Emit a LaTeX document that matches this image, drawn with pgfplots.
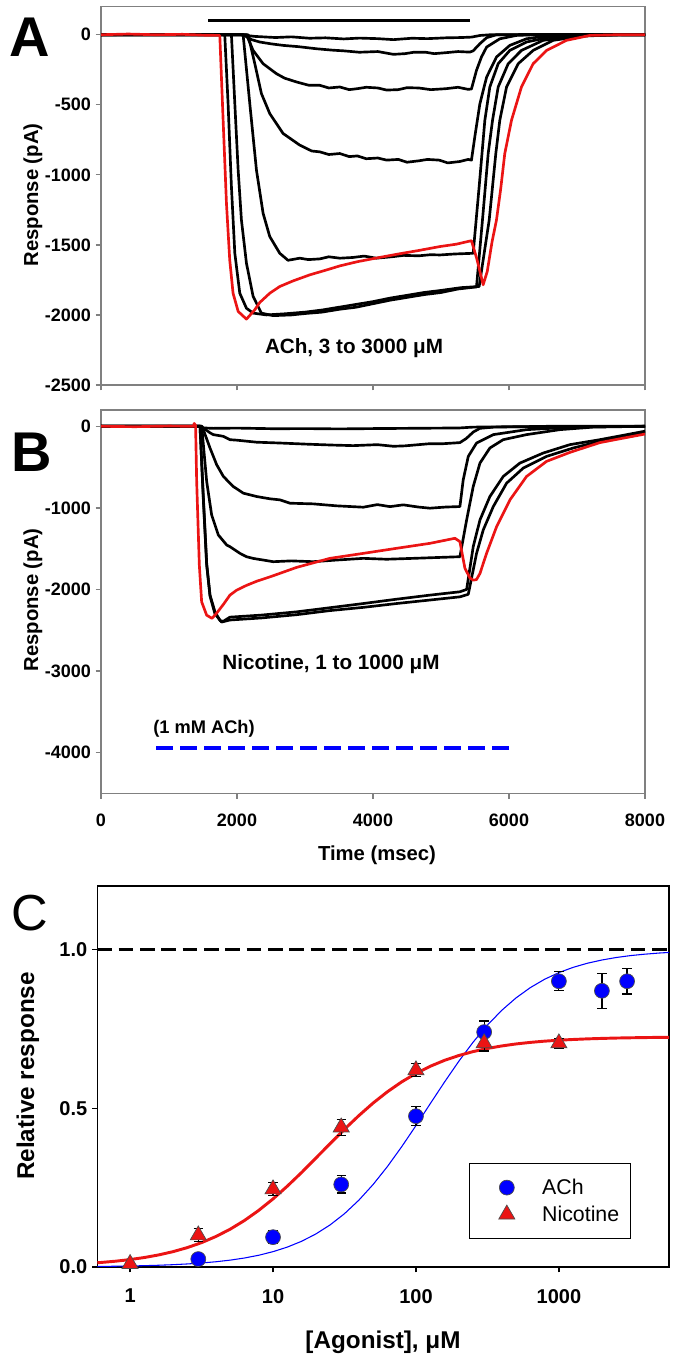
\documentclass[border=0pt]{standalone}
\usepackage{fontspec}
\setmainfont{Liberation Sans}
\usepackage{pgfplots}
\pgfplotsset{compat=1.18}
\definecolor{framegray}{RGB}{128,128,128}
\definecolor{tred}{RGB}{235,20,20}
\definecolor{pblue}{RGB}{0,0,255}
\newcommand{\tickfont}{\fontsize{13.5pt}{16pt}\selectfont\bfseries}
\newcommand{\labfont}{\fontsize{15.2pt}{18pt}\selectfont\bfseries}
\pgfplotsset{
  mylegimg/.style={legend image code/.code={\path[draw=none,fill=none] (0pt,0pt) -- (46pt,0pt); \draw[##1] plot[only marks] coordinates {(21pt,0pt)};}},
  trace/.style={line width=2pt, black, line join=round, no marks},
  redtrace/.style={line width=2pt, tred, line join=round, no marks},
  panelAB/.style={
    scale only axis, width=408pt,
    xmin=0, xmax=8000,
    axis line style={framegray, line width=1pt},
    every tick/.style={framegray, line width=1pt},
    tick align=outside, major tick length=4pt,
    xtick pos=bottom, ytick pos=left,
    xtick={0,2000,4000,6000,8000},
    /pgf/number format/assume math mode=true,
    /pgf/number format/1000 sep={},
    ticklabel style={font=\tickfont},
  },
}
\begin{document}
\begin{tikzpicture}
\useasboundingbox (0,0) rectangle (504pt,1018.5pt);
% ---------------- Panel A ----------------
\begin{axis}[panelAB, at={(75.75pt,729.75pt)}, anchor=south west, height=283.7pt,
  ymin=-2500, ymax=200, ytick={-2500,-2000,-1500,-1000,-500,0}, xticklabels={}]
\addplot[black, line width=2.5pt] coordinates {(1578,100)(5426,100)};
\addplot[trace] coordinates {(0,0)(1000,2)(2041,0)(2264,-12)(2565,-20)(2800,-15)(3067,-25)(3300,-22)(3569,-30)(3800,-24)(4071,-28)(4300,-35)(4573,-25)(4800,-28)(5075,-22)(5300,-20)(5448,-17)(5577,-5)(5728,0)(6500,2)(8000,0)};
\addplot[trace] coordinates {(0,0)(2090,0)(2214,-35)(2335,-52)(2500,-65)(2678,-76)(2900,-85)(3167,-100)(3400,-110)(3569,-115)(3800,-125)(4071,-120)(4300,-140)(4473,-135)(4600,-125)(4774,-125)(4900,-135)(5075,-128)(5250,-120)(5423,-124)(5473,-115)(5572,-64)(5671,-21)(5816,0)(8000,0)};
\addplot[trace] coordinates {(0,0)(2139,0)(2237,-112)(2384,-207)(2580,-278)(2700,-310)(2874,-337)(3050,-360)(3218,-361)(3350,-380)(3512,-373)(3650,-392)(3770,-385)(3900,-375)(4071,-380)(4200,-395)(4372,-392)(4500,-378)(4673,-380)(4850,-392)(5075,-385)(5250,-375)(5400,-390)(5448,-387)(5522,-254)(5595,-159)(5671,-88)(5865,-29)(6109,-5)(6380,0)(8000,0)};
\addplot[trace] coordinates {(0,0)(2163,0)(2262,-207)(2359,-420)(2482,-563)(2678,-705)(2923,-788)(3100,-830)(3218,-836)(3350,-855)(3512,-848)(3650,-870)(3770,-865)(3900,-885)(4071,-880)(4200,-895)(4372,-890)(4500,-910)(4673,-900)(4800,-890)(4975,-895)(5100,-915)(5276,-905)(5400,-890)(5448,-895)(5497,-729)(5572,-492)(5671,-302)(5816,-159)(6012,-76)(6257,-29)(6600,-5)(7083,0)(8000,0)};
\addplot[trace] coordinates {(0,0)(2090,0)(2188,-491)(2286,-966)(2384,-1275)(2482,-1441)(2629,-1560)(2750,-1610)(2923,-1595)(3050,-1605)(3218,-1600)(3350,-1585)(3512,-1595)(3700,-1590)(3870,-1580)(4050,-1595)(4272,-1585)(4450,-1575)(4673,-1578)(4850,-1570)(4983,-1572)(5200,-1565)(5473,-1560)(5561,-1085)(5645,-610)(5718,-373)(5841,-207)(6012,-112)(6258,-52)(6600,-17)(7083,-3)(8000,0)};
\addplot[trace] coordinates {(0,0)(1820,0)(1869,-492)(1918,-1085)(1968,-1560)(2041,-1845)(2139,-1952)(2237,-1987)(2433,-2000)(2700,-1992)(3000,-1980)(3250,-1965)(3500,-1945)(3750,-1925)(4000,-1905)(4250,-1880)(4500,-1860)(4750,-1840)(5000,-1825)(5300,-1805)(5561,-1797)(5709,-1322)(5806,-848)(5865,-610)(5964,-373)(6135,-207)(6355,-112)(6649,-40)(7083,-10)(7585,0)(8000,0)};
\addplot[trace] coordinates {(0,0)(1918,0)(1968,-492)(2017,-966)(2065,-1322)(2139,-1631)(2237,-1868)(2359,-1987)(2531,-2005)(2800,-2000)(3000,-1990)(3250,-1980)(3500,-1960)(3750,-1945)(4000,-1920)(4250,-1895)(4500,-1875)(4750,-1855)(5000,-1840)(5250,-1815)(5522,-1800)(5610,-1322)(5694,-848)(5758,-610)(5841,-373)(5988,-207)(6183,-112)(6503,-40)(6983,-8)(7585,0)(8000,0)};
\addplot[redtrace] coordinates {(0,0)(400,5)(800,0)(1200,3)(1500,-3)(1747,-5)(1796,-610)(1845,-1204)(1893,-1607)(1942,-1845)(2017,-1975)(2139,-2030)(2262,-1963)(2335,-1911)(2482,-1845)(2629,-1797)(2825,-1757)(3070,-1714)(3316,-1679)(3512,-1650)(3770,-1620)(4071,-1592)(4372,-1565)(4673,-1540)(4983,-1512)(5226,-1495)(5448,-1470)(5527,-1600)(5620,-1785)(5680,-1690)(5750,-1480)(5816,-1322)(5878,-1100)(5938,-848)(6037,-610)(6183,-373)(6355,-207)(6552,-112)(6846,-40)(7188,-5)(7585,0)(8000,0)};
\node[font=\fontsize{15.5pt}{18pt}\selectfont\bfseries] at (axis cs:3721,-2236) {ACh, 3 to 3000 μM};
\end{axis}
% ---------------- Panel B ----------------
\begin{axis}[panelAB, at={(75.75pt,423.5pt)}, anchor=south west, height=287.5pt,
  ymin=-4500, ymax=200, ytick={-4000,-3000,-2000,-1000,0},
  xticklabel style={yshift=-8pt}]
\addplot[trace] coordinates {(0,0)(1456,0)(1504,-20)(1652,-25)(2000,-22)(2557,-30)(3000,-28)(3500,-32)(4000,-28)(4500,-25)(5000,-22)(5278,-20)(5471,-10)(6074,-5)(8000,0)};
\addplot[trace] coordinates {(0,0)(1481,0)(1504,-20)(1603,-80)(1652,-102)(1799,-123)(1896,-164)(1995,-170)(2289,-195)(2632,-205)(3059,-220)(3400,-230)(3709,-237)(4064,-225)(4300,-245)(4466,-240)(4837,-213)(5000,-215)(5278,-200)(5371,-150)(5475,-70)(5572,-25)(5773,-10)(6577,0)(8000,0)};
\addplot[trace] coordinates {(0,0)(1471,0)(1504,-40)(1603,-266)(1701,-471)(1799,-614)(1896,-697)(1945,-738)(2093,-820)(2191,-840)(2289,-861)(2485,-889)(2632,-902)(2780,-943)(3121,-951)(3461,-975)(3857,-992)(4064,-960)(4250,-985)(4445,-963)(4667,-990)(4837,-1004)(5069,-990)(5278,-984)(5327,-656)(5401,-369)(5523,-205)(5769,-102)(6258,-41)(6994,-8)(8000,0)};
\addplot[trace] coordinates {(0,0)(1481,0)(1554,-676)(1627,-1086)(1725,-1332)(1848,-1455)(1896,-1476)(2044,-1558)(2141,-1599)(2240,-1620)(2533,-1660)(2800,-1650)(3121,-1660)(3461,-1640)(3857,-1619)(4200,-1630)(4592,-1619)(4900,-1610)(5278,-1599)(5377,-1148)(5474,-738)(5573,-451)(5719,-266)(5915,-164)(6258,-102)(6749,-41)(7239,-10)(8000,0)};
\addplot[trace] coordinates {(0,0)(1456,0)(1504,-881)(1554,-1701)(1603,-2070)(1676,-2275)(1753,-2385)(1800,-2390)(1896,-2340)(2356,-2315)(2876,-2275)(3361,-2225)(3857,-2173)(4346,-2120)(4837,-2070)(5278,-2029)(5377,-2000)(5474,-1476)(5573,-1148)(5719,-861)(5915,-615)(6160,-451)(6503,-328)(6895,-225)(7336,-164)(7682,-110)(8000,-60)};
\addplot[trace] coordinates {(0,0)(1456,0)(1504,-850)(1554,-1680)(1603,-2080)(1676,-2300)(1773,-2400)(1896,-2375)(2356,-2350)(2876,-2310)(3361,-2260)(3857,-2220)(4346,-2173)(4837,-2130)(5278,-2091)(5401,-2060)(5523,-1558)(5621,-1271)(5769,-984)(5965,-697)(6210,-512)(6552,-369)(6944,-266)(7336,-184)(7682,-120)(8000,-70)};
\addplot[redtrace] coordinates {(0,0)(500,-5)(1000,3)(1358,0)(1371,35)(1391,10)(1407,-676)(1446,-1701)(1480,-2152)(1554,-2316)(1632,-2355)(1702,-2290)(1803,-2180)(1896,-2070)(1995,-2009)(2141,-1950)(2289,-1900)(2506,-1840)(2876,-1730)(3367,-1619)(3857,-1558)(4346,-1496)(4837,-1435)(5205,-1373)(5278,-1414)(5352,-1742)(5426,-1860)(5474,-1886)(5521,-1880)(5573,-1804)(5670,-1558)(5818,-1230)(6014,-902)(6258,-615)(6552,-430)(6895,-320)(7336,-200)(7682,-145)(8000,-95)};
\addplot[pblue, line width=3.5pt, dash pattern=on 12.5pt off 5.5pt] coordinates {(809,-3944)(6059,-3944)};
\node[font=\fontsize{15.5pt}{18pt}\selectfont\bfseries] at (axis cs:3382,-2914) {Nicotine, 1 to 1000 μM};
\node[font=\fontsize{13.7pt}{16pt}\selectfont\bfseries] at (axis cs:1515,-3711) {(1 mM ACh)};
\end{axis}
% ---------------- Panel C ----------------
\begin{axis}[at={(73pt,68.25pt)}, anchor=south west, scale only axis,
  width=428.8pt, height=285.75pt,
  xmode=log, log basis x=10, xmin=0.59, xmax=5900, ymin=0, ymax=1.2,
  xtick={1,10,100,1000}, xticklabels={1,10,100,1000}, xminorticks=false,
  ytick={0,0.5,1}, yticklabels={0.0,0.5,1.0},
  axis line style={black, line width=1.1pt},
  every tick/.style={black, line width=1pt},
  tick align=outside, major tick length=4pt,
  xtick pos=bottom, ytick pos=left,
  ticklabel style={font=\fontsize{15pt}{18pt}\selectfont\bfseries},
  xticklabel style={yshift=-9pt},
  clip=false,
  legend style={at={(0.650,0.273)}, anchor=north west, draw=black, line width=0.8pt,
    font=\fontsize{16pt}{19pt}\selectfont, inner xsep=7pt, inner ysep=10pt,
    nodes={inner sep=1.5pt}, row sep=4pt},
  legend cell align=left,
]
\addplot[black, line width=2.4pt, dash pattern=on 11pt off 5pt, forget plot] coordinates {(0.59,1)(5900,1)};
\addplot[pblue, line width=0.8pt, forget plot] coordinates {
(0.59,0.0017)(0.7943,0.00242)(1,0.00319)(1.2589,0.00420)(1.5849,0.00553)(1.9953,0.00727)(2.5119,0.00957)(3.1623,0.0126)(3.9811,0.0165)(5.0119,0.0216)(6.3096,0.0283)(7.9433,0.0370)
(10,0.0483)(12.589,0.0627)(15.849,0.0810)(19.953,0.1041)(25.119,0.1328)(31.623,0.1679)(39.811,0.2102)(50.119,0.2597)(63.096,0.3162)(79.433,0.3787)
(100,0.4454)(125.89,0.5144)(158.49,0.5827)(199.53,0.6480)(251.19,0.7082)(316.23,0.7619)(398.11,0.8083)(501.19,0.8475)(630.96,0.8799)(794.33,0.9062)
(1000,0.9272)(1258.9,0.9438)(1584.9,0.9568)(1995.3,0.9668)(2511.9,0.9747)(3162.3,0.9807)(3981.1,0.9852)(5011.9,0.9888)(5900,0.9907)};
\addplot[tred, line width=2.2pt, forget plot] coordinates {
(0.59,0.0133)(0.7943,0.01831)(1,0.02341)(1.2589,0.02988)(1.5849,0.03804)(1.9953,0.04827)(2.5119,0.06102)(3.1623,0.07674)(3.9811,0.09594)(5.0119,0.1190)(6.3096,0.1464)(7.9433,0.1783)
(10,0.2144)(12.589,0.2546)(15.849,0.2977)(19.953,0.3431)(25.119,0.3889)(31.623,0.4339)(39.811,0.4766)(50.119,0.5163)(63.096,0.5518)(79.433,0.5830)
(100,0.6097)(125.89,0.6322)(158.49,0.6509)(199.53,0.6661)(251.19,0.6785)(316.23,0.6883)(398.11,0.6962)(501.19,0.7025)(630.96,0.7074)(794.33,0.7113)
(1000,0.7143)(1258.9,0.7166)(1584.9,0.7185)(1995.3,0.7199)(2511.9,0.7211)(3162.3,0.7219)(3981.1,0.7226)(5011.9,0.7232)(5900,0.7235)};
% error bars
\addplot[only marks, mark=none, forget plot, error bars/.cd, y dir=both, y explicit,
  error bar style={black, line width=0.9pt},
  error mark options={rotate=90, black, mark size=3.5pt, line width=0.9pt}] coordinates {
(3,0.025) +- (0,0.01) (10,0.094) +- (0,0.02) (30,0.26) +- (0,0.027) (100,0.475) +- (0,0.03)
(300,0.74) +- (0,0.035) (1000,0.90) +- (0,0.03) (2000,0.87) +- (0,0.055) (3000,0.90) +- (0,0.04)};
\addplot[only marks, mark=none, forget plot, error bars/.cd, y dir=both, y explicit,
  error bar style={black, line width=0.9pt},
  error mark options={rotate=90, black, mark size=3.5pt, line width=0.9pt}] coordinates {
(1,0.01) +- (0,0.005) (3,0.10) +- (0,0.02) (10,0.245) +- (0,0.02) (30,0.44) +- (0,0.025)
(100,0.62) +- (0,0.02) (300,0.705) +- (0,0.025) (1000,0.705) +- (0,0.015)};
\addplot[only marks, mark=*, mark size=5.6pt, mark options={fill=pblue, draw=black!70, line width=0.5pt}, mylegimg] coordinates {
(3,0.025)(10,0.094)(30,0.26)(100,0.475)(300,0.74)(1000,0.90)(2000,0.87)(3000,0.90)};
\addlegendentry{ACh}
\addplot[only marks, mark=triangle*, mark size=7pt, mark options={fill=tred, draw=black!70, line width=0.5pt}, mylegimg] coordinates {
(1,0.01)(3,0.10)(10,0.245)(30,0.44)(100,0.62)(300,0.705)(1000,0.705)};
\addlegendentry{Nicotine}
\end{axis}
% ---------------- labels ----------------
\node[font=\fontsize{42pt}{46pt}\selectfont\bfseries] at (22.5pt,990.75pt) {A};
\node[font=\fontsize{42pt}{46pt}\selectfont\bfseries] at (24pt,679.5pt) {B};
\node[font=\fontsize{38pt}{42pt}\selectfont] at (22.5pt,333.75pt) {C};
\node[font=\labfont, rotate=90, anchor=base] at (28.5pt,872.25pt) {Response (pA)};
\node[font=\labfont, rotate=90, anchor=base] at (28.5pt,568.5pt) {Response (pA)};
\node[font=\labfont] at (282.75pt,377.25pt) {Time (msec)};
\node[font=\fontsize{18.2pt}{21pt}\selectfont\bfseries, rotate=90, anchor=base] at (25.5pt,211.5pt) {Relative response};
\node[font=\fontsize{18.2pt}{21pt}\selectfont\bfseries] at (287.25pt,12pt) {[Agonist], μM};
\end{tikzpicture}
\end{document}
